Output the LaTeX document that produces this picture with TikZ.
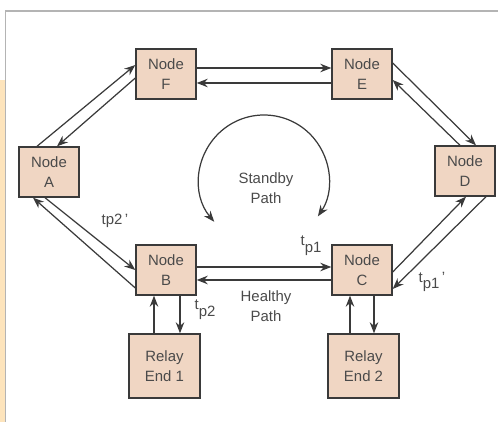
\documentclass[tikz,border=0pt]{standalone}
\usepackage{fontspec}
\setmainfont{Liberation Sans}
\usetikzlibrary{arrows.meta, positioning, calc}
\definecolor{boxfill}{HTML}{F0D6C3}
\definecolor{boxline}{HTML}{3A3A3A}
\definecolor{inktext}{HTML}{4A4A4A}
\definecolor{framegray}{HTML}{B4B4B4}
\definecolor{sidestrip}{HTML}{FDE4BC}
\newcommand{\tsub}[1]{t\raisebox{-0.45em}{#1}}
\tikzset{
    block/.style={rectangle, draw=boxline, line width=0.8pt, fill=boxfill, align=center, text=inktext, minimum width=1.2cm, minimum height=1cm, inner sep=0pt, font=\fontsize{8.5}{11.3}\selectfont},
    relay/.style={block, minimum width=1.42cm, minimum height=1.28cm},
    arrow/.style={draw=boxline, line width=0.7pt, -{Stealth[length=2.2mm, width=1.7mm]}},
    pathtext/.style={text=inktext, align=center, inner sep=0pt, font=\fontsize{8.5}{11.3}\selectfont}
}

\begin{document}
\begin{tikzpicture}[x=0.02cm, y=-0.02cm]
    \useasboundingbox (0,0) rectangle (498,422);
    % frame and side strip
    \fill[sidestrip] (0,80) rectangle (5,422);
    \draw[framegray, line width=1pt] (5.5,422) -- (5.5,11) -- (498,11);

    % ring nodes
    \node[block] (node_f) at (166,74) {Node\\F};
    \node[block] (node_e) at (362,74) {Node\\E};
    \node[block] (node_a) at (49,172) {Node\\A};
    \node[block] (node_d) at (465,171) {Node\\D};
    \node[block] (node_b) at (166,270) {Node\\B};
    \node[block] (node_c) at (362,270) {Node\\C};
    \node[relay] (relay_one) at (164.5,366) {Relay\\End 1};
    \node[relay] (relay_two) at (363.5,366) {Relay\\End 2};

    % ring links
    \draw[arrow] ([xshift=-0.24cm]node_a.north) -- ([yshift=0.18cm]node_f.west);
    \draw[arrow] ([yshift=-0.08cm]node_f.west) -- ([xshift=0.16cm]node_a.north);
    \draw[arrow] ([yshift=0.12cm]node_f.east) -- ([yshift=0.12cm]node_e.west);
    \draw[arrow] ([yshift=-0.18cm]node_e.west) -- ([yshift=-0.18cm]node_f.east);
    \draw[arrow] ([yshift=0.22cm]node_e.east) -- ([xshift=0.22cm]node_d.north);
    \draw[arrow] ([xshift=-0.1cm]node_d.north) -- ([yshift=-0.12cm]node_e.east);
    \draw[arrow] ([yshift=-0.04cm]node_c.east) -- ([xshift=0.02cm]node_d.south);
    \draw[arrow] ([xshift=0.42cm]node_d.south) -- ([yshift=-0.38cm]node_c.east);
    \draw[arrow] ([yshift=0.06cm]node_b.east) -- ([yshift=0.06cm]node_c.west);
    \draw[arrow, line width=1.2pt] ([yshift=-0.2cm]node_c.west) -- ([yshift=-0.2cm]node_b.east);
    \draw[arrow] ([xshift=-0.08cm]node_a.south) -- ([yshift=0cm]node_b.west);
    \draw[arrow] ([yshift=-0.36cm]node_b.west) -- ([xshift=-0.32cm]node_a.south);

    % relay links
    \draw[arrow] ([xshift=-0.24cm]node_b.south |- relay_one.north) -- ([xshift=-0.24cm]node_b.south);
    \draw[arrow] ([xshift=0.28cm]node_b.south) -- ([xshift=0.28cm]node_b.south |- relay_one.north);
    \draw[arrow] ([xshift=-0.24cm]node_c.south |- relay_two.north) -- ([xshift=-0.24cm]node_c.south);
    \draw[arrow] ([xshift=0.24cm]node_c.south) -- ([xshift=0.24cm]node_c.south |- relay_two.north);

    % standby loop
    \draw[draw=boxline, line width=0.7pt, {Stealth[length=2.2mm, width=1.7mm]}-{Stealth[length=2.2mm, width=1.7mm]}]
        (264,180) ++(140:65) arc[start angle=140, end angle=394, radius=65];

    % path labels
    \node[pathtext] (standby) at (266,188) {Standby\\Path};
    \node[pathtext] (healthy) at (266,306) {Healthy\\Path};
    \node[pathtext] (tp_two_prime) at (115,221) {tp2\,'};
    \node[pathtext] (tp_one) at (311,246) {\tsub{p1}};
    \node[pathtext] (tp_one_prime) at (432,282) {\tsub{p1}\,'};
    \node[pathtext] (tp_two) at (205,310) {\tsub{p2}};
\end{tikzpicture}
\end{document}
